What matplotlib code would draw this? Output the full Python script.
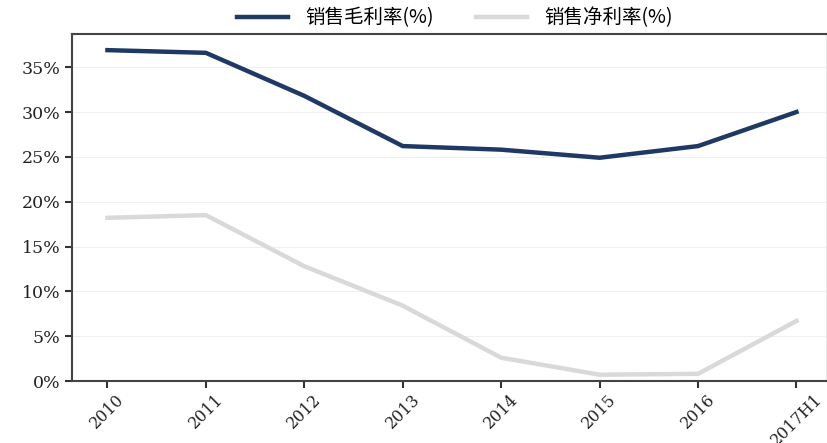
import numpy as np
import matplotlib.pyplot as plt
from matplotlib.ticker import FuncFormatter

years = ['2010', '2011', '2012', '2013', '2014', '2015', '2016', '2017H1']
gross_margin = [36.9, 36.6, 31.8, 26.2, 25.8, 24.9, 26.2, 30.0]
net_margin = [18.2, 18.5, 12.8, 8.4, 2.6, 0.7, 0.8, 6.7]

serif = ['DejaVu Serif']
cjk = ['Noto Sans CJK SC', 'DejaVu Sans']

fig = plt.figure(figsize=(8.28, 4.43), dpi=100)
ax = fig.add_axes([72/828, 1 - 381/443, (826 - 72)/828, (381 - 34)/443])

x = np.arange(len(years))
ax.plot(x, gross_margin, color='#1f3864', lw=3.2, label='销售毛利率(%)')
ax.plot(x, net_margin, color='#d9d9d9', lw=3.2, label='销售净利率(%)')

ax.set_xlim(-0.36, 7.3)
ax.set_ylim(0, 38.7)
ax.set_yticks(np.arange(0, 36, 5))
ax.yaxis.set_major_formatter(FuncFormatter(lambda v, p: f'{v:.0f}%'))
ax.set_xticks(x)
ax.set_xticklabels(years, rotation=45, ha='center')
ax.grid(axis='y', color='#f0f0f0', lw=0.8)
ax.set_axisbelow(True)

for lab in ax.get_yticklabels():
    lab.set_family(serif)
    lab.set_fontsize(12.5)
    lab.set_color('#222222')
for lab in ax.get_xticklabels():
    lab.set_family(serif)
    lab.set_fontsize(11.5)
    lab.set_color('#222222')

for s in ['left', 'bottom', 'top']:
    ax.spines[s].set_color('#444444')
    ax.spines[s].set_linewidth(1.5)
ax.spines['right'].set_color('#e8e8e8')
ax.tick_params(axis='both', direction='out', length=5, width=1.5, color='#333333')
ax.tick_params(axis='x', pad=2)

fig.legend(loc='center', bbox_to_anchor=(455/828, 1 - 18/443), ncol=2, frameon=False,
           prop={'family': cjk, 'size': 14}, handlelength=2.6, handletextpad=0.9,
           columnspacing=2.2)

fig.savefig('out.png', dpi=100)
